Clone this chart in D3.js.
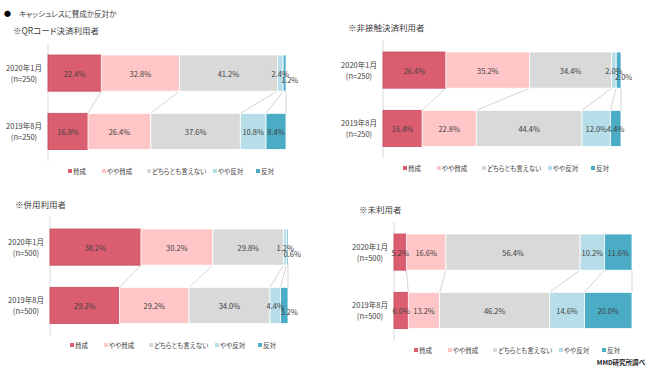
<!DOCTYPE html>
<html>
<head>
<meta charset="utf-8">
<script src="https://cdn.jsdelivr.net/npm/d3@7"></script>
<style>
  body { margin: 0; background: #fff; }
  text { font-family: "Noto Sans CJK JP", "Noto Sans", sans-serif; font-feature-settings: "palt"; fill: #404040; }
</style>
</head>
<body>
<div class="chart"></div>
<script>
const categories = ["2020年1月", "2019年8月"]
const seriesNames = ["賛成", "やや賛成", "どちらとも言えない", "やや反対", "反対"]
const colors = ["#db5e70", "#ffc6c7", "#d9d9d9", "#b7dee8", "#4bacc6"]

const qrValues = [[22.4, 32.8, 41.2, 2.4, 1.2], [16.8, 26.4, 37.6, 10.8, 8.4]]
const contactlessValues = [[26.4, 35.2, 34.4, 2.0, 2.0], [16.4, 22.8, 44.4, 12.0, 4.4]]
const bothValues = [[38.2, 30.2, 29.8, 1.2, 0.6], [29.2, 29.2, 34.0, 4.4, 3.2]]
const nonUserValues = [[5.2, 16.6, 56.4, 10.2, 11.6], [6.0, 13.2, 46.2, 14.6, 20.0]]

const panels = [
  {title: "※QRコード決済利用者", n: [250, 250], values: qrValues, left: 48, top: 55},
  {title: "※非接触決済利用者", n: [250, 250], values: contactlessValues, left: 383, top: 52},
  {title: "※併用利用者", n: [500, 500], values: bothValues, left: 50, top: 229},
  {title: "※未利用者", n: [500, 500], values: nonUserValues, left: 394, top: 234}
]

const width = 650, height = 368
const barWidth = 238

const svg = d3.select(".chart").append("svg")
    .attr("width", width)
    .attr("height", height)

svg.append("text")
    .attr("x", 4)
    .attr("y", 13)
    .attr("dominant-baseline", "central")
    .style("font-size", "7px")
    .style("fill", "#000")
    .text("●")

svg.append("text")
    .attr("x", 19)
    .attr("y", 13)
    .attr("dominant-baseline", "central")
    .style("font-size", "7.5px")
    .text("キャッシュレスに賛成か反対か")

const x = d3.scaleLinear().domain([0, 100]).range([0, barWidth])

panels.forEach(function(p) {
  const g = svg.append("g")
      .attr("transform", "translate(" + p.left + "," + p.top + ")")

  const y = d3.scaleBand()
      .domain(categories)
      .range([0, 94.5])
      .paddingInner(0.38)

  const rows = categories.map(function(c, i) {
    let acc = 0
    return p.values[i].map(function(v, j) {
      const d = {cat: c, series: j, value: v, x0: acc, x1: acc + v}
      acc += v
      return d
    })
  })

  g.append("text")
      .attr("x", -35)
      .attr("y", -25)
      .attr("dominant-baseline", "central")
      .style("font-size", "8.5px")
      .text(p.title)

  // axis line
  g.append("line")
      .attr("x1", 0).attr("x2", 0)
      .attr("y1", -12).attr("y2", y.range()[1] + 12)
      .style("stroke", "#d9d9d9")
      .style("stroke-width", 1)

  // connector lines between bars
  g.selectAll(".conn")
      .data(rows[0].map(function(d, j) { return [d.x1, rows[1][j].x1] }))
    .enter().append("line")
      .attr("class", "conn")
      .attr("x1", function(d) { return x(d[0]) })
      .attr("x2", function(d) { return x(d[1]) })
      .attr("y1", y(categories[0]) + y.bandwidth())
      .attr("y2", y(categories[1]))
      .style("stroke", "#c8c8c8")
      .style("stroke-width", 0.8)

  const row = g.selectAll(".row")
      .data(rows)
    .enter().append("g")
      .attr("class", "row")
      .attr("transform", function(d, i) { return "translate(0," + y(categories[i]) + ")" })

  row.selectAll("rect")
      .data(function(d) { return d })
    .enter().append("rect")
      .attr("x", function(d) { return x(d.x0) })
      .attr("width", function(d) { return x(d.x1) - x(d.x0) })
      .attr("y", 0)
      .attr("height", y.bandwidth())
      .style("fill", function(d) { return colors[d.series] })
      .style("stroke", function(d) { return d.series === 0 ? "#c94a5e" : "#fff" })
      .style("stroke-width", 0.8)

  row.selectAll(".lbl")
      .data(function(d) { return d })
    .enter().append("text")
      .attr("class", "lbl")
      .attr("x", function(d) {
        const w = x(d.x1) - x(d.x0)
        const shift = (d.series === 4 && w < 10) ? 5 : 0
        return x((d.x0 + d.x1) / 2) + shift
      })
      .attr("y", function(d) {
        const w = x(d.x1) - x(d.x0)
        return y.bandwidth() / 2 + ((d.series === 4 && w < 10) ? 6 : 0)
      })
      .attr("text-anchor", "middle")
      .attr("dominant-baseline", "central")
      .style("font-size", "7.5px")
      .text(function(d) { return d.value.toFixed(1) + "%" })

  // category labels
  categories.forEach(function(c, i) {
    const cy = y(c) + y.bandwidth() / 2
    const t = g.append("text")
        .attr("x", -24)
        .attr("text-anchor", "middle")
        .style("font-size", "7.5px")
    t.append("tspan").attr("x", -24).attr("y", cy - 5.5).attr("dominant-baseline", "central").text(c)
    t.append("tspan").attr("x", -24).attr("y", cy + 5.5).attr("dominant-baseline", "central").text("(n=" + p.n[i] + ")")
  })

  // legend
  const legendY = y.range()[1] + 21.5
  const legendX = [22, 56, 101, 167, 210]
  const legend = g.selectAll(".legend")
      .data(seriesNames)
    .enter().append("g")
      .attr("class", "legend")
      .attr("transform", function(d, i) { return "translate(" + legendX[i] + "," + legendY + ")" })

  legend.append("rect")
      .attr("x", -2).attr("y", -2)
      .attr("width", 4).attr("height", 4)
      .style("fill", function(d, i) { return colors[i] })

  legend.append("text")
      .attr("x", 3)
      .attr("dominant-baseline", "central")
      .style("font-size", "6.5px")
      .text(function(d) { return d })
})

svg.append("text")
    .attr("x", 645)
    .attr("y", 362)
    .attr("text-anchor", "end")
    .attr("dominant-baseline", "central")
    .style("font-size", "6.5px")
    .style("font-weight", "bold")
    .style("fill", "#222")
    .text("MMD研究所調べ")
</script>
</body>
</html>
